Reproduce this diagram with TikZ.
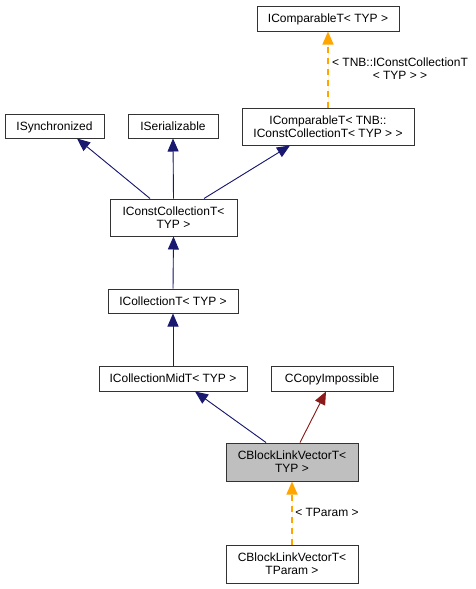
\documentclass[tikz,border=0pt]{standalone}
\usepackage{fontspec}
\setmainfont{Liberation Sans}
\usetikzlibrary{arrows.meta}
\definecolor{navy}{HTML}{191970}
\definecolor{dred}{HTML}{8B1A1A}
\definecolor{orng}{HTML}{FFA500}
\definecolor{gfill}{HTML}{BFBFBF}
\begin{document}
\begin{tikzpicture}[x=1pt,y=-1pt,
  box/.style={draw=black!80,line width=1pt,fill=white,inner sep=0pt,align=center,
    font=\fontsize{12}{13}\selectfont},
  one/.style={text height=10pt,text depth=2pt},
  lbl/.style={inner sep=0pt,align=center,font=\fontsize{12}{13}\selectfont},
  inh/.style={draw=navy,line width=0.9pt,-{Triangle[length=13pt,width=11pt]},fill=navy},
  inhr/.style={draw=dred,line width=0.9pt,-{Triangle[length=13pt,width=11pt]},fill=dred},
  tmpl/.style={draw=orng,line width=1.4pt,dash pattern=on 6pt off 5pt,
    -{Triangle[length=13pt,width=11pt]},fill=orng}]
\useasboundingbox (0,0) rectangle (475,589);
\node[box,one,minimum width=142pt,minimum height=25pt] (cmpTYP) at (328,18.5) {IComparableT< TYP >};
\node[box,minimum width=172pt,minimum height=37pt] (cmpTNB) at (328,126.5) {IComparableT< TNB::\\IConstCollectionT< TYP > >};
\node[box,one,minimum width=99pt,minimum height=24pt] (sync) at (54.5,126) {ISynchronized};
\node[box,one,minimum width=90pt,minimum height=24pt] (ser) at (173,126) {ISerializable};
\node[box,minimum width=127pt,minimum height=37pt] (ccoll) at (173.5,217.5) {IConstCollectionT<\\TYP >};
\node[box,one,minimum width=130pt,minimum height=24pt] (coll) at (173,301) {ICollectionT< TYP >};
\node[box,one,minimum width=148pt,minimum height=25pt] (mid) at (173,378.5) {ICollectionMidT< TYP >};
\node[box,one,minimum width=122pt,minimum height=25pt] (copy) at (332,378.5) {CCopyImpossible};
\node[box,fill=gfill,minimum width=132pt,minimum height=38pt] (blv) at (292,462) {CBlockLinkVectorT<\\TYP >};
\node[box,minimum width=132pt,minimum height=38pt] (blvp) at (292,564) {CBlockLinkVectorT<\\TParam >};
\node[lbl] (l1) at (400,68.5) {< TNB::IConstCollectionT\\< TYP > >};
\node[lbl] (l2) at (327,512) {< TParam >};
\draw[tmpl] (cmpTNB.north) -- (cmpTYP.south);
\draw[inh] ([xshift=-23.5pt]ccoll.north) -- ([xshift=22.5pt]sync.south);
\draw[inh] (ccoll.north) -- (ser.south);
\draw[inh] ([xshift=30.5pt]ccoll.north) -- ([xshift=-38pt]cmpTNB.south);
\draw[inh] (coll.north) -- (ccoll.south);
\draw[inh] (mid.north) -- (coll.south);
\draw[inh] ([xshift=-26pt]blv.north) -- ([xshift=22pt]mid.south);
\draw[inhr] ([xshift=8pt]blv.north) -- ([xshift=-6pt]copy.south);
\draw[tmpl] (blvp.north) -- (blv.south);
\end{tikzpicture}
\end{document}
